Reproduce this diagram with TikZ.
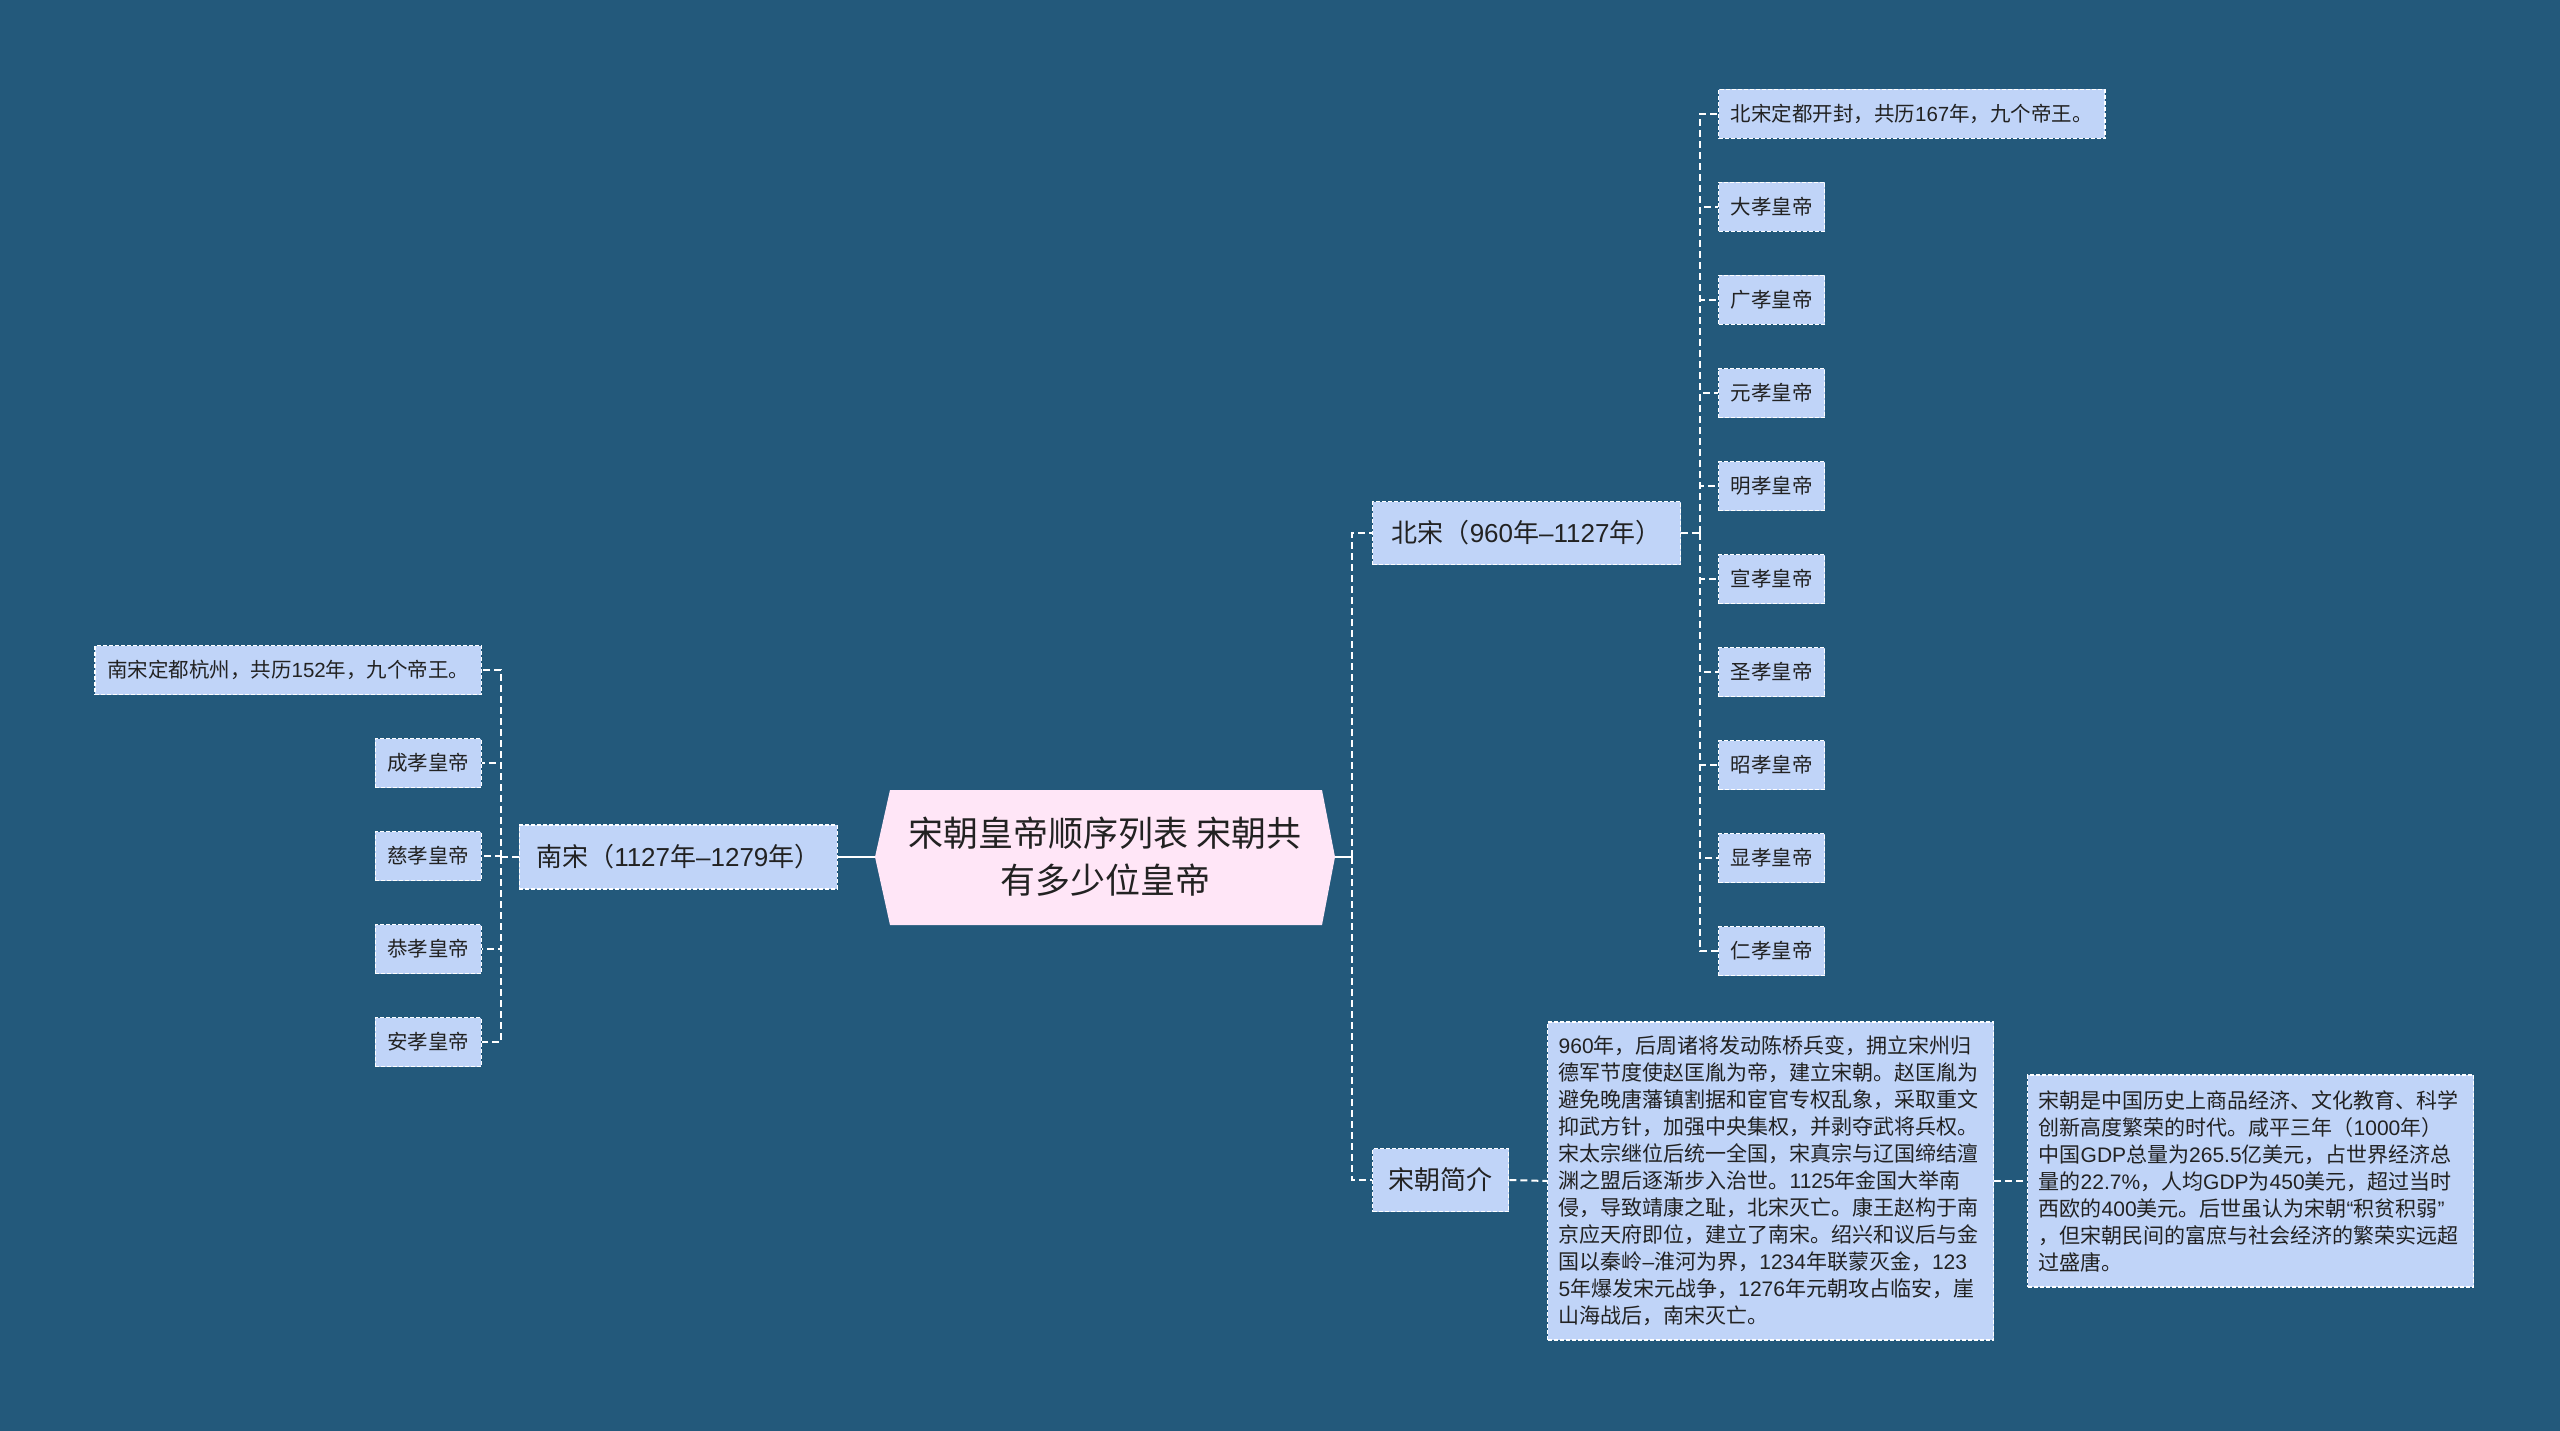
\documentclass[tikz,border=0pt]{standalone}
\usepackage{fontspec}
\newfontfamily\cjk{Noto Sans CJK SC}
\newfontfamily\lat{Liberation Sans}
\makeatletter
\XeTeXinterchartokenstate=1
\newXeTeXintercharclass\cjkclass
\count@="3000
\loop\XeTeXcharclass\count@=\cjkclass\advance\count@ by 1 \ifnum\count@<"3040 \repeat
\count@="4E00
\loop\XeTeXcharclass\count@=\cjkclass\advance\count@ by 1 \ifnum\count@<"A000 \repeat
\count@="FF00
\loop\XeTeXcharclass\count@=\cjkclass\advance\count@ by 1 \ifnum\count@<"FF60 \repeat
\makeatother
\XeTeXinterchartoks 0 \cjkclass = {\cjk}
\XeTeXinterchartoks 4095 \cjkclass = {\cjk}
\XeTeXinterchartoks \cjkclass 0 = {\lat}
\definecolor{bg}{HTML}{23597B}
\definecolor{nodefill}{HTML}{C0D4F8}
\definecolor{hexfill}{HTML}{FFE6F7}
\definecolor{txt}{HTML}{222222}
\tikzset{
  box/.style={draw=white, fill=nodefill, line width=1.3pt, dash pattern=on 4pt off 2pt,
    text=txt, font=\lat\fontsize{20.5}{24}\selectfont, inner xsep=12pt, inner ysep=0pt,
    minimum height=49pt},
  mainbox/.style={box, font=\lat\fontsize{26}{30}\selectfont, minimum height=63pt, inner xsep=0pt},
  textbox/.style={box, font=\lat\fontsize{21}{27}\selectfont, align=left, inner xsep=11pt, inner ysep=10pt},
  conn/.style={draw=white, line width=2pt, dash pattern=on 7pt off 4pt},
  solidconn/.style={draw=white, line width=2pt},
}
\begin{document}
\begin{tikzpicture}[x=1pt,y=-1pt]
\fill[bg] (0,0) rectangle (2560,1431);
\useasboundingbox (0,0) rectangle (2560,1431);
% central hexagon
\coordinate (hexL) at (875,857);
\coordinate (hexR) at (1335,857);
\fill[hexfill] (hexL) -- (890,790) -- (1322,790) -- (hexR) -- (1322,925) -- (890,925) -- cycle;
\node[align=center, text=txt, font=\cjk\fontsize{35}{47}\selectfont] (center) at (1105,857) {宋朝皇帝顺序列表 宋朝共\\有多少位皇帝};
% right main branches
\node[mainbox, anchor=west, minimum width=308pt] (bs) at (1372,533) {北宋（960年–1127年）};
\node[mainbox, anchor=west, minimum width=136pt] (jj) at (1372,1180) {宋朝简介};
\coordinate (jr) at (1352,857);
\draw[solidconn] (hexR) -- (jr);
\draw[conn] (jr) |- (bs.west);
\draw[conn] (jr) |- (jj.west);
% Northern Song children
\coordinate (bv) at (1700,533);
\draw[conn] (bs.east) -- (bv);
\node[box, anchor=west] (b1) at (1718,114) {北宋定都开封，共历167年，九个帝王。};
\node[box, anchor=west] (b2) at (1718,207) {大孝皇帝};
\node[box, anchor=west] (b3) at (1718,300) {广孝皇帝};
\node[box, anchor=west] (b4) at (1718,393) {元孝皇帝};
\node[box, anchor=west] (b5) at (1718,486) {明孝皇帝};
\node[box, anchor=west] (b6) at (1718,579) {宣孝皇帝};
\node[box, anchor=west] (b7) at (1718,672) {圣孝皇帝};
\node[box, anchor=west] (b8) at (1718,765) {昭孝皇帝};
\node[box, anchor=west] (b9) at (1718,858) {显孝皇帝};
\node[box, anchor=west] (b10) at (1718,951) {仁孝皇帝};
\foreach \c in {b1,b2,b3,b4,b5,b6,b7,b8,b9,b10} {\draw[conn] (bv) |- (\c.west);}
% introduction boxes
\node[textbox, anchor=west, text width=424pt, minimum height=318pt] (t1) at (1547,1181) {960年，后周诸将发动陈桥兵变，拥立宋州归\\德军节度使赵匡胤为帝，建立宋朝。赵匡胤为\\避免晚唐藩镇割据和宦官专权乱象，采取重文\\抑武方针，加强中央集权，并剥夺武将兵权。\\宋太宗继位后统一全国，宋真宗与辽国缔结澶\\渊之盟后逐渐步入治世。1125年金国大举南\\侵，导致靖康之耻，北宋灭亡。康王赵构于南\\京应天府即位，建立了南宋。绍兴和议后与金\\国以秦岭–淮河为界，1234年联蒙灭金，123\\5年爆发宋元战争，1276年元朝攻占临安，崖\\山海战后，南宋灭亡。};
\node[textbox, anchor=west, text width=424pt, minimum height=212pt, inner xsep=11pt] (t2) at (2027,1181) {宋朝是中国历史上商品经济、文化教育、科学\\创新高度繁荣的时代。咸平三年（1000年）\\中国GDP总量为265.5亿美元，占世界经济总\\量的22.7\%，人均GDP为450美元，超过当时\\西欧的400美元。后世虽认为宋朝“积贫积弱”\\，但宋朝民间的富庶与社会经济的繁荣实远超\\过盛唐。};
\draw[conn] (jj.east) -- (t1.west);
\draw[conn] (t1.east) -- (t2.west);
% Southern Song
\node[mainbox, anchor=east, minimum width=318pt, minimum height=64pt] (ns) at (838,857) {南宋（1127年–1279年）};
\draw[solidconn] (hexL) -- (ns.east);
\coordinate (lv) at (501,857);
\draw[conn] (ns.west) -- (lv);
\node[box, anchor=east] (n1) at (482,670) {南宋定都杭州，共历152年，九个帝王。};
\node[box, anchor=east] (n2) at (482,763) {成孝皇帝};
\node[box, anchor=east] (n3) at (482,856) {慈孝皇帝};
\node[box, anchor=east] (n4) at (482,949) {恭孝皇帝};
\node[box, anchor=east] (n5) at (482,1042) {安孝皇帝};
\foreach \c in {n1,n2,n3,n4,n5} {\draw[conn] (lv) |- (\c.east);}
\end{tikzpicture}
\end{document}
